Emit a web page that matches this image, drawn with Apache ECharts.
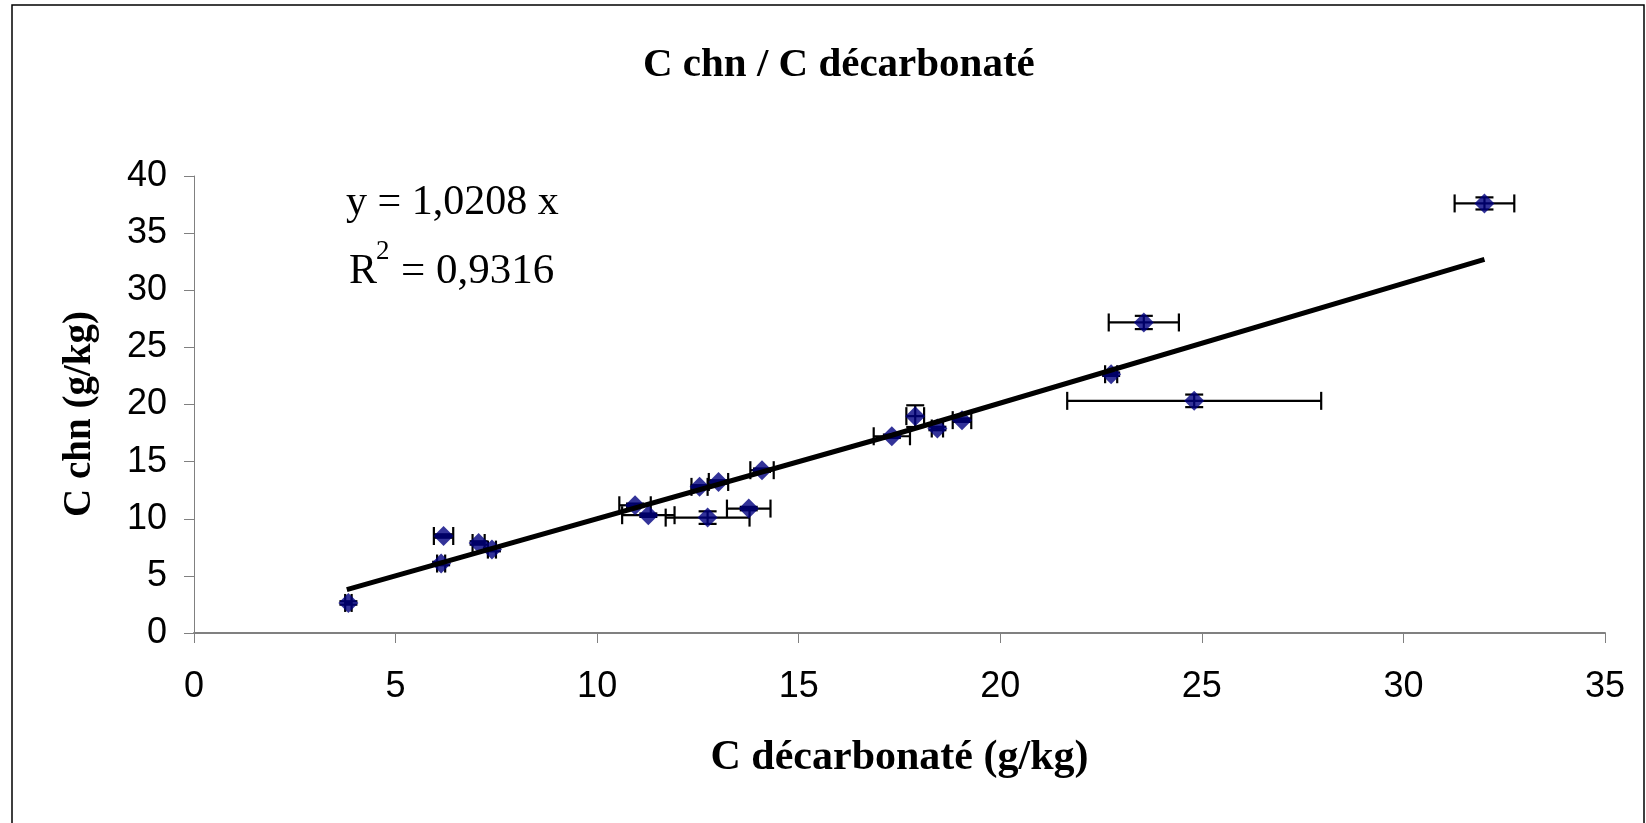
<!DOCTYPE html>
<html>
<head>
<meta charset="utf-8">
<script src="https://cdn.jsdelivr.net/npm/echarts@6/dist/echarts.min.js"></script>
<style>
  html, body { margin: 0; padding: 0; background: #fff; }
  #chart { width: 1646px; height: 823px; }
</style>
</head>
<body>
<div id="chart"></div>
<script>
// C chn vs C décarbonaté, avec barres d'erreur
var cDecarb = [3.83, 6.19, 6.13, 7.06, 7.39, 10.94, 11.27, 12.54, 13.01, 12.74, 13.76, 14.09, 17.31, 17.89, 18.44, 19.05, 22.75, 23.56, 24.81, 32.01];
var cChn    = [2.63, 8.49, 6.08, 7.88, 7.30, 11.18, 10.31, 12.79, 13.22, 10.10, 10.89, 14.25, 17.22, 18.98, 17.90, 18.63, 22.65, 27.18, 20.32, 37.60];
var errX    = [0.08, 0.24, 0.10, 0.15, 0.10, 0.39, 0.65, 0.20, 0.24, 1.04, 0.54, 0.29, 0.45, 0.22, 0.14, 0.23, 0.15, 0.87, 3.15, 0.74];
var errY    = [0.15, 0.15, 0.15, 0.15, 0.15, 0.15, 0.15, 0.15, 0.15, 0.55, 0.15, 0.15, 0.15, 0.95, 0.15, 0.15, 0.15, 0.58, 0.55, 0.53];

// droite de tendance
var trendX = [3.79, 17.31, 32.01];
var trendY = [3.80, 17.31, 32.70];

var xTicks = [0, 5, 10, 15, 20, 25, 30, 35];
var yTicks = [0, 5, 10, 15, 20, 25, 30, 35, 40];

var pts = [], bars = [], trend = [];
for (var i = 0; i < cDecarb.length; i++) {
  pts.push([cDecarb[i], cChn[i]]);
  bars.push([cDecarb[i], cChn[i], errX[i], errY[i]]);
}
for (var j = 0; j < trendX.length; j++) {
  trend.push([trendX[j], trendY[j]]);
}

var chart = echarts.init(document.getElementById('chart'));

var serif = '"Liberation Serif", "Times New Roman", serif';
var sans = '"Liberation Sans", Arial, sans-serif';

function renderBar(params, api) {
  var x = api.value(0), y = api.value(1), ex = api.value(2), ey = api.value(3);
  var cap = 9;
  var kids = [];
  var st = { stroke: '#000', lineWidth: 2.2 };
  if (ex > 0) {
    var l = api.coord([x - ex, y]), r = api.coord([x + ex, y]);
    kids.push({ type: 'line', shape: { x1: l[0], y1: l[1], x2: r[0], y2: r[1] }, style: st });
    kids.push({ type: 'line', shape: { x1: l[0], y1: l[1] - cap, x2: l[0], y2: l[1] + cap }, style: st });
    kids.push({ type: 'line', shape: { x1: r[0], y1: r[1] - cap, x2: r[0], y2: r[1] + cap }, style: st });
  }
  if (ey > 0) {
    var t = api.coord([x, y + ey]), b = api.coord([x, y - ey]);
    kids.push({ type: 'line', shape: { x1: t[0], y1: t[1], x2: b[0], y2: b[1] }, style: st });
    kids.push({ type: 'line', shape: { x1: t[0] - cap, y1: t[1], x2: t[0] + cap, y2: t[1] }, style: st });
    kids.push({ type: 'line', shape: { x1: b[0] - cap, y1: b[1], x2: b[0] + cap, y2: b[1] }, style: st });
  }
  return { type: 'group', children: kids };
}

var option = {
  backgroundColor: '#fff',
  animation: false,
  title: {
    text: 'C chn / C décarbonaté',
    left: 638,
    top: 40,
    textStyle: { fontFamily: serif, fontWeight: 'bold', fontSize: 41, color: '#000' }
  },
  grid: { left: 194, right: 41, top: 176, bottom: 190, outerBoundsMode: 'none' },
  xAxis: {
    type: 'value',
    min: xTicks[0],
    max: xTicks[xTicks.length - 1],
    interval: 5,
    name: 'C décarbonaté (g/kg)',
    nameLocation: 'middle',
    nameGap: 104,
    nameTextStyle: { fontFamily: serif, fontWeight: 'bold', fontSize: 42, color: '#000' },
    axisLine: { lineStyle: { color: '#808080', width: 2 } },
    axisTick: { show: true, length: 10, lineStyle: { color: '#808080', width: 1 } },
    axisLabel: { margin: 36, fontFamily: sans, fontSize: 36, color: '#000' },
    splitLine: { show: false }
  },
  yAxis: {
    type: 'value',
    min: yTicks[0],
    max: yTicks[yTicks.length - 1],
    interval: 5,
    axisLine: { show: true, lineStyle: { color: '#808080', width: 1 } },
    axisTick: { show: true, length: 10, lineStyle: { color: '#808080', width: 1 } },
    axisLabel: { margin: 27, fontFamily: sans, fontSize: 36, color: '#000' },
    splitLine: { show: false }
  },
  graphic: [
    { type: 'rect', shape: { x: 12, y: 5, width: 1632, height: 840 }, style: { fill: 'none', stroke: '#000', lineWidth: 1.5 }, silent: true },
    { type: 'text', x: 80, y: 414, rotation: Math.PI / 2,
      style: { text: 'C chn (g/kg)', font: 'bold 39px ' + serif, fill: '#000', align: 'center', verticalAlign: 'middle' } },
    { type: 'text', x: 346, y: 203, style: { text: 'y = 1,0208 x', font: '42px ' + serif, fill: '#000', verticalAlign: 'middle' } },
    { type: 'text', x: 349, y: 272, style: { text: 'R', font: '42px ' + serif, fill: '#000', verticalAlign: 'middle' } },
    { type: 'text', x: 376, y: 252, style: { text: '2', font: '27px ' + serif, fill: '#000', verticalAlign: 'middle' } },
    { type: 'text', x: 401, y: 272, style: { text: '= 0,9316', font: '43px ' + serif, fill: '#000', verticalAlign: 'middle' } }
  ],
  series: [
    {
      name: 'erreurs',
      type: 'custom',
      renderItem: renderBar,
      data: bars,
      z: 2,
      silent: true
    },
    {
      name: 'C chn',
      type: 'scatter',
      symbol: 'diamond',
      symbolSize: 20,
      itemStyle: { color: '#000080' },
      data: pts,
      z: 3
    },
    {
      name: 'tendance',
      type: 'line',
      data: trend,
      showSymbol: false,
      lineStyle: { color: '#000', width: 5 },
      z: 4
    }
  ]
};

chart.setOption(option);
</script>
</body>
</html>
